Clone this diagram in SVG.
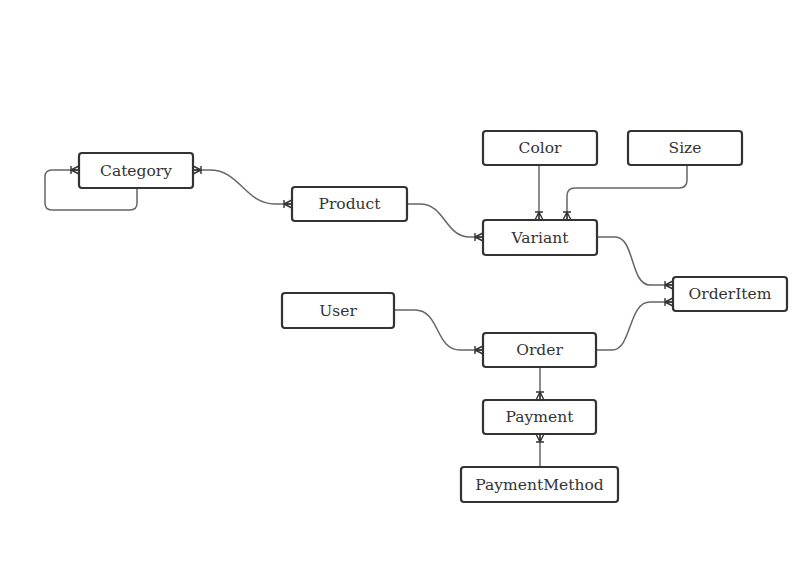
<svg xmlns="http://www.w3.org/2000/svg" width="808" height="588" viewBox="0 0 808 588">
<style>
.box{fill:#fff;stroke:#333;stroke-width:2.2}
.lbl{font-family:"DejaVu Serif","Liberation Serif",serif;font-size:15.5px;fill:#333;text-anchor:middle;dominant-baseline:central}
.edge{fill:none;stroke:#666;stroke-width:1.5}
</style>
<defs>
<marker id="crow" markerUnits="userSpaceOnUse" viewBox="-11 -6 12 12" refX="0" refY="0" markerWidth="12" markerHeight="12" orient="auto-start-reverse">
<path d="M-8,-4 V4 M-8,0 L0,-4 M-8,0 L0,4 M-8,0 H0" fill="none" stroke="#333" stroke-width="1.4"/>
</marker>
</defs>
<rect width="808" height="588" fill="#fff"/>
<g id="connectors">
<path class="edge" d="M137,188 V203 Q137,210 130,210 H52 Q45,210 45,203 V177 Q45,170 52,170 H79" marker-end="url(#crow)"/>
<path class="edge" d="M193,170 H210 C240,170 245,204 275,204 H292" marker-start="url(#crow)" marker-end="url(#crow)"/>
<path class="edge" d="M407,204 H420 C445,204 445,237 470,237 H483" marker-end="url(#crow)"/>
<path class="edge" d="M539,165 V220" marker-end="url(#crow)"/>
<path class="edge" d="M687,165 V180 Q687,188 679,188 H575 Q567,188 567,196 V220" marker-end="url(#crow)"/>
<path class="edge" d="M597,237 H615 C635,237 630,285 650,285 H673" marker-end="url(#crow)"/>
<path class="edge" d="M596,350 H612 C632,350 628,302 650,302 H673" marker-end="url(#crow)"/>
<path class="edge" d="M394,310 H415 C440,310 435,350 460,350 H483" marker-end="url(#crow)"/>
<path class="edge" d="M540,367 V400" marker-end="url(#crow)"/>
<path class="edge" d="M540,467 V434" marker-end="url(#crow)"/>
</g>
<g id="Category"><rect class="box" x="79" y="153" width="114" height="35" rx="3"/><text class="lbl" x="136" y="170.5">Category</text></g>
<g id="Product"><rect class="box" x="292" y="187" width="115" height="34" rx="3"/><text class="lbl" x="349.5" y="204">Product</text></g>
<g id="Color"><rect class="box" x="483" y="131" width="114" height="34" rx="3"/><text class="lbl" x="540" y="148">Color</text></g>
<g id="Size"><rect class="box" x="628" y="131" width="114" height="34" rx="3"/><text class="lbl" x="685" y="148">Size</text></g>
<g id="Variant"><rect class="box" x="483" y="220" width="114" height="35" rx="3"/><text class="lbl" x="540" y="237.5">Variant</text></g>
<g id="OrderItem"><rect class="box" x="673" y="277" width="114" height="34" rx="3"/><text class="lbl" x="730" y="294">OrderItem</text></g>
<g id="User"><rect class="box" x="282" y="293" width="112" height="35" rx="3"/><text class="lbl" x="338" y="310.5">User</text></g>
<g id="Order"><rect class="box" x="483" y="333" width="113" height="34" rx="3"/><text class="lbl" x="539.5" y="350">Order</text></g>
<g id="Payment"><rect class="box" x="483" y="400" width="113" height="34" rx="3"/><text class="lbl" x="539.5" y="417">Payment</text></g>
<g id="PaymentMethod"><rect class="box" x="461" y="467" width="157" height="35" rx="3"/><text class="lbl" x="539.5" y="484.5">PaymentMethod</text></g>
</svg>
